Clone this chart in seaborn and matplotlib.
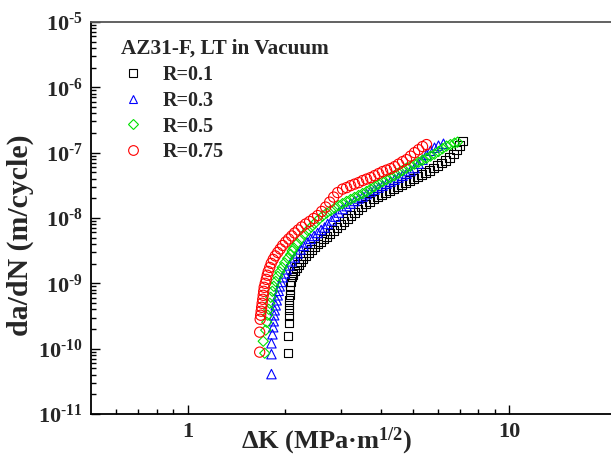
import numpy as np
import pandas as pd
import matplotlib
matplotlib.use("Agg")
import matplotlib.pyplot as plt
import seaborn as sns
from matplotlib.lines import Line2D
from matplotlib.ticker import FixedLocator, FuncFormatter, NullFormatter

# --- data (delta K in MPa*m^0.5, da/dN in m/cycle) ---
dk_r01 = [2.045, 2.045, 2.059, 2.059, 2.067, 2.067, 2.067, 2.074, 2.074, 2.082,
          2.089, 2.104, 2.127, 2.149, 2.180, 2.211, 2.243, 2.283, 2.325, 2.375,
          2.427, 2.480, 2.534, 2.588, 2.645, 2.702, 2.771, 2.841, 2.914, 2.987,
          3.062, 3.139, 3.219, 3.300, 3.385, 3.470, 3.571, 3.675, 3.781, 3.891,
          4.004, 4.120, 4.240, 4.363, 4.490, 4.620, 4.754, 4.892, 5.034, 5.180,
          5.331, 5.484, 5.644, 5.808, 5.976, 6.150, 6.329, 6.512, 6.700, 6.847,
          6.994, 7.145]
da_r01 = [8.53e-11, 1.55e-10, 2.45e-10, 3.13e-10, 3.87e-10, 4.61e-10, 5.50e-10, 6.56e-10, 7.82e-10, 9.32e-10,
          1.07e-9, 1.24e-9, 1.37e-9, 1.55e-9, 1.75e-9, 1.95e-9, 2.17e-9, 2.41e-9, 2.68e-9, 2.97e-9,
          3.30e-9, 3.67e-9, 4.01e-9, 4.38e-9, 4.78e-9, 5.22e-9, 5.80e-9, 6.45e-9, 7.16e-9, 7.96e-9,
          8.85e-9, 9.83e-9, 1.09e-8, 1.21e-8, 1.35e-8, 1.50e-8, 1.64e-8, 1.79e-8, 1.95e-8, 2.13e-8,
          2.28e-8, 2.45e-8, 2.63e-8, 2.82e-8, 3.03e-8, 3.25e-8, 3.48e-8, 3.74e-8, 4.01e-8, 4.30e-8,
          4.61e-8, 4.95e-8, 5.31e-8, 5.80e-8, 6.33e-8, 6.91e-8, 7.55e-8, 8.39e-8, 9.65e-8, 1.11e-7,
          1.28e-7, 1.52e-7]

dk_r03 = [1.820, 1.820, 1.820, 1.833, 1.843, 1.850, 1.856, 1.863, 1.876, 1.890,
          1.903, 1.917, 1.931, 1.951, 1.972, 2.001, 2.030, 2.067, 2.104, 2.149,
          2.196, 2.243, 2.292, 2.350, 2.410, 2.471, 2.534, 2.598, 2.664, 2.722,
          2.801, 2.873, 2.945, 3.029, 3.117, 3.208, 3.300, 3.397, 3.496, 3.597,
          3.701, 3.808, 3.920, 4.033, 4.150, 4.270, 4.395, 4.522, 4.653, 4.788,
          4.926, 5.070, 5.217, 5.369, 5.524, 5.684, 5.849, 6.019, 6.237]
da_r03 = [4.08e-11, 8.24e-11, 1.21e-10, 1.66e-10, 2.13e-10, 2.63e-10, 3.25e-10, 3.87e-10, 4.61e-10, 5.50e-10,
          6.56e-10, 7.68e-10, 9.00e-10, 1.05e-9, 1.24e-9, 1.42e-9, 1.64e-9, 1.88e-9, 2.17e-9, 2.49e-9,
          2.87e-9, 3.30e-9, 3.74e-9, 4.23e-9, 4.78e-9, 5.31e-9, 5.90e-9, 6.56e-9, 7.16e-9, 8.10e-9,
          9.16e-9, 1.05e-8, 1.21e-8, 1.37e-8, 1.52e-8, 1.66e-8, 1.82e-8, 1.99e-8, 2.13e-8, 2.32e-8,
          2.54e-8, 2.72e-8, 2.92e-8, 3.13e-8, 3.36e-8, 3.61e-8, 3.87e-8, 4.15e-8, 4.45e-8, 4.78e-8,
          5.22e-8, 5.80e-8, 6.79e-8, 7.82e-8, 9.31e-8, 1.07e-7, 1.19e-7, 1.28e-7, 1.37e-7]

dk_r05 = [1.735, 1.716, 1.747, 1.760, 1.772, 1.785, 1.798, 1.811, 1.831, 1.850,
          1.876, 1.903, 1.931, 1.965, 2.001, 2.045, 2.089, 2.111, 2.134, 2.188,
          2.243, 2.300, 2.359, 2.419, 2.480, 2.552, 2.626, 2.702, 2.781, 2.862,
          2.945, 3.029, 3.117, 3.208, 3.300, 3.397, 3.496, 3.597, 3.701, 3.808,
          3.920, 4.033, 4.150, 4.270, 4.395, 4.522, 4.653, 4.788, 4.926, 5.070,
          5.217, 5.369, 5.524, 5.684, 5.849, 6.019, 6.194, 6.374, 6.558, 6.750,
          6.896]
da_r05 = [8.53e-11, 1.30e-10, 1.92e-10, 2.54e-10, 3.25e-10, 4.01e-10, 4.95e-10, 6.11e-10, 7.55e-10, 9.00e-10,
          1.07e-9, 1.28e-9, 1.50e-9, 1.75e-9, 2.06e-9, 2.41e-9, 2.77e-9, 3.14e-9, 3.48e-9, 4.08e-9,
          4.78e-9, 5.60e-9, 6.45e-9, 7.29e-9, 8.24e-9, 9.49e-9, 1.07e-8, 1.19e-8, 1.30e-8, 1.42e-8,
          1.55e-8, 1.66e-8, 1.79e-8, 1.92e-8, 2.06e-8, 2.21e-8, 2.37e-8, 2.54e-8, 2.77e-8, 3.03e-8,
          3.30e-8, 3.61e-8, 3.87e-8, 4.15e-8, 4.45e-8, 4.86e-8, 5.31e-8, 5.80e-8, 6.22e-8, 6.67e-8,
          7.16e-8, 7.68e-8, 8.24e-8, 8.85e-8, 9.49e-8, 1.04e-7, 1.15e-7, 1.26e-7, 1.33e-7, 1.40e-7,
          1.45e-7]

dk_r075 = [1.673, 1.673, 1.679, 1.685, 1.691, 1.697, 1.703, 1.710, 1.716, 1.722,
           1.728, 1.741, 1.754, 1.766, 1.779, 1.798, 1.817, 1.843, 1.870, 1.903,
           1.938, 1.972, 2.015, 2.059, 2.104, 2.149, 2.204, 2.259, 2.325, 2.392,
           2.462, 2.534, 2.607, 2.683, 2.761, 2.841, 2.924, 3.029, 3.117, 3.208,
           3.300, 3.397, 3.496, 3.597, 3.701, 3.808, 3.920, 4.033, 4.150, 4.270,
           4.395, 4.522, 4.653, 4.788, 4.926, 5.070, 5.217, 5.369, 5.524]
da_r075 = [8.85e-11, 1.79e-10, 2.82e-10, 3.25e-10, 3.74e-10, 4.30e-10, 4.95e-10, 5.70e-10, 6.56e-10, 7.55e-10,
           8.69e-10, 1.00e-9, 1.15e-9, 1.33e-9, 1.52e-9, 1.75e-9, 2.02e-9, 2.32e-9, 2.63e-9, 2.97e-9,
           3.36e-9, 3.80e-9, 4.30e-9, 4.78e-9, 5.31e-9, 5.90e-9, 6.56e-9, 7.29e-9, 8.10e-9, 8.85e-9,
           9.83e-9, 1.09e-8, 1.26e-8, 1.47e-8, 1.75e-8, 2.09e-8, 2.45e-8, 2.77e-8, 2.92e-8, 3.13e-8,
           3.30e-8, 3.48e-8, 3.74e-8, 3.94e-8, 4.15e-8, 4.45e-8, 4.78e-8, 5.13e-8, 5.41e-8, 5.70e-8,
           6.11e-8, 6.67e-8, 7.29e-8, 7.82e-8, 8.85e-8, 1.00e-7, 1.11e-7, 1.24e-7, 1.33e-7]

labels = ["R=0.1", "R=0.3", "R=0.5", "R=0.75"]
legend_title = "AZ31-F, LT in Vacuum"
x_major = [1, 10]
x_minor = [0.6, 0.7, 0.8, 0.9, 2, 3, 4, 5, 6, 7, 8, 9]
y_exponents = [-11, -10, -9, -8, -7, -6, -5]

# --- style ---
sns.set_style("ticks")
plt.rcParams['font.family'] = ['Liberation Serif', 'DejaVu Serif']
plt.rcParams['font.weight'] = 'bold'
plt.rcParams['mathtext.fontset'] = 'custom'
plt.rcParams['mathtext.rm'] = 'Liberation Serif:bold'
plt.rcParams['mathtext.bf'] = 'Liberation Serif:bold'
plt.rcParams['mathtext.it'] = 'Liberation Serif:bold:italic'

series = [
    (dk_r01, da_r01, "s", "#000000", 36),
    (dk_r03, da_r03, "^", "#0000ff", 46),
    (dk_r05, da_r05, "D", "#00e000", 27),
    (dk_r075, da_r075, "o", "#ff0000", 54),
]

fig = plt.figure(figsize=(6.11, 4.63), dpi=100)
ax = fig.add_axes([0.1489, 0.1058, 0.936, 0.8467])

handles = []
for (dk, da, mk, col, size), lab in zip(series, labels):
    df = pd.DataFrame({"dK": dk, "dadN": da})
    sns.scatterplot(data=df, x="dK", y="dadN", marker=mk, s=size, ax=ax,
                    color=col, linewidth=0.8, legend=False)
    pts = ax.collections[-1]
    pts.set_facecolor("none")
    pts.set_edgecolor(col)
    handles.append(Line2D([], [], marker=mk, linestyle="none", markerfacecolor="none",
                          markeredgecolor=col, markeredgewidth=0.8,
                          markersize=np.sqrt(size) * 0.95, label=lab))

ax.set_xscale("log")
ax.set_yscale("log")
ax.set_xlim(0.5, 30)
ax.set_ylim(1e-11, 1e-5)

y_major = [10.0 ** e for e in y_exponents]
y_minor = [m * 10.0 ** e for e in y_exponents[:-1] for m in range(2, 10)]
ax.xaxis.set_major_locator(FixedLocator(x_major))
ax.xaxis.set_minor_locator(FixedLocator(x_minor))
ax.xaxis.set_major_formatter(FuncFormatter(lambda v, p: f"{v:g}"))
ax.xaxis.set_minor_formatter(NullFormatter())
ax.yaxis.set_major_locator(FixedLocator(y_major))
ax.yaxis.set_minor_locator(FixedLocator(y_minor))
ax.yaxis.set_major_formatter(FuncFormatter(
    lambda v, p: r"$\mathbf{10^{\text{-%d}}}$" % abs(int(round(np.log10(v))))))
ax.yaxis.set_minor_formatter(NullFormatter())

ax.tick_params(which="both", direction="in", top=False, right=False, width=1.0, color="black")
ax.tick_params(which="major", length=6.5, labelsize=16, pad=6)
ax.tick_params(which="minor", length=3.5)
for t in ax.get_xticklabels() + ax.get_yticklabels():
    t.set_fontweight("bold")

for side in ["left", "bottom", "top"]:
    ax.spines[side].set_linewidth(1.3)
    ax.spines[side].set_color("black")
ax.spines["top"].set_color("#555555")
ax.spines["right"].set_visible(False)

ax.set_xlabel("\u0394K (MPa\u00b7m$^{1/2}$)", fontsize=19, fontweight="bold")
ax.xaxis.set_label_coords(0.413, -0.03)
ax.set_ylabel("da/dN (m/cycle)", fontsize=21.5, fontweight="bold")
ax.yaxis.set_label_coords(-0.10, 0.455)

leg = ax.legend(handles=handles, title=legend_title, loc="upper left",
                bbox_to_anchor=(121 / 611, 1 - 39 / 463), bbox_transform=fig.transFigure,
                frameon=False, fontsize=14.5, title_fontsize=15.3, alignment="left",
                borderpad=0, borderaxespad=0, handlelength=1.2, handletextpad=0.85,
                labelspacing=0.29)
leg.get_title().set_fontweight("bold")
for txt in leg.get_texts():
    txt.set_fontweight("bold")

fig.savefig("out.png", dpi=100)
